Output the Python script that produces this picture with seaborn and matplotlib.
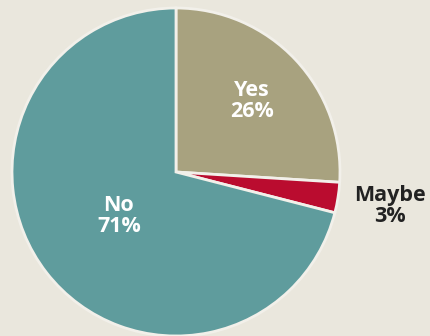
import numpy as np
import matplotlib
matplotlib.use("Agg")
import matplotlib.pyplot as plt
import seaborn as sns

categories = ["Yes", "Maybe", "No"]
values = [26, 3, 71]
colors = ["#A8A27F", "#BA0C2F", "#5F9C9D"]
label_colors = ["white", "#222222", "white"]
label_radius = [0.635, 1.32, 0.44]

sns.set_theme(style="white")
plt.rcParams['font.family'] = ['Open Sans', 'DejaVu Sans']

bg = "#EAE7DD"
fig = plt.figure(figsize=(4.31, 3.36), dpi=100, facecolor=bg)
ax = fig.add_axes([12/431, 0.0, 328/431, 328/336])
ax.set_facecolor(bg)

wedges, _ = ax.pie(values, colors=colors, startangle=90, counterclock=False,
                   radius=1.0, wedgeprops=dict(edgecolor="#F2F0EA", linewidth=2))
ax.set_xlim(-1, 1)
ax.set_ylim(-1, 1)
ax.set_aspect("equal")
ax.axis("off")

for w, cat, v, c, r in zip(wedges, categories, values, label_colors, label_radius):
    ang = np.deg2rad((w.theta1 + w.theta2) / 2)
    ax.text(r * np.cos(ang), r * np.sin(ang), f"{cat}\n{v}%", ha="center", va="center",
            color=c, fontsize=15.5, fontweight="bold", linespacing=1.0, clip_on=False)

fig.savefig("out.png", dpi=100, facecolor=bg)
